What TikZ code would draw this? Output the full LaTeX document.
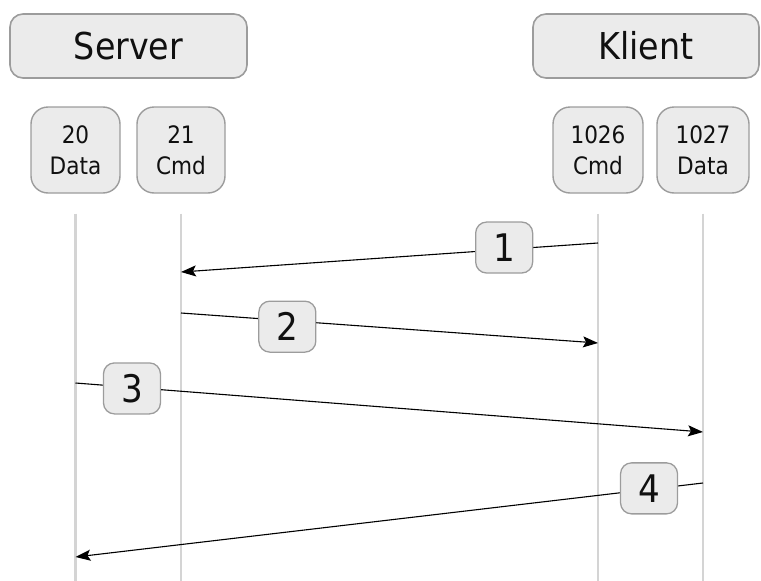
\documentclass[tikz,border=0pt]{standalone}
\usepackage{fontspec}
\setmainfont{DejaVu Sans Condensed}
\usetikzlibrary{arrows.meta}
\definecolor{boxfill}{HTML}{EBEBEB}
\definecolor{boxline}{HTML}{9C9C9C}
\definecolor{lifecol}{HTML}{D4D4D4}
\definecolor{txt}{HTML}{101010}
\tikzset{
  actor/.style={draw=boxline, fill=boxfill, line width=1.6pt, rounded corners=13pt,
    text=txt, font=\fontsize{37}{44}\selectfont, inner sep=0pt, anchor=center},
  port/.style={draw=boxline, fill=boxfill, line width=1.4pt, rounded corners=17pt,
    text=txt, font=\fontsize{24}{31}\selectfont, align=center, inner sep=0pt,
    minimum height=86pt},
  lifeline/.style={draw=lifecol, line width=2.4pt},
  msg/.style={draw=black, line width=1.1pt, -{Stealth[length=15pt,width=11pt,inset=3pt]}},
  lbl/.style={draw=boxline, fill=boxfill, line width=1.3pt, rounded corners=11pt,
    text=txt, font=\fontsize{38}{44}\selectfont, inner sep=0pt,
    minimum width=57pt, minimum height=51pt}
}
\begin{document}
\begin{tikzpicture}[x=1pt,y=-1pt]
\useasboundingbox (0,0) rectangle (761,581);
% actors
\node[actor, minimum width=237pt, minimum height=64pt] (server) at (128.5,46) {Server};
\node[actor, minimum width=226pt, minimum height=64pt] (klient) at (646,46) {Klient};
% ports
\node[port, minimum width=89pt] (p20) at (75.5,150) {20\\Data};
\node[port, minimum width=88pt] (p21) at (181,150) {21\\Cmd};
\node[port, minimum width=90pt] (p1026) at (598,150) {1026\\Cmd};
\node[port, minimum width=92pt] (p1027) at (703,150) {1027\\Data};
\coordinate (bot) at (0,581);
% lifelines
\foreach \p in {p20,p21,p1026,p1027}{
  \draw[lifeline] ([yshift=-20pt]\p.south) -- (\p.south |- bot);
}
% message end points
\coordinate (a1) at (p1026.south |- 0,243);
\coordinate (b1) at (p21.south |- 0,272);
\coordinate (a2) at (p21.south |- 0,313);
\coordinate (b2) at (p1026.south |- 0,343);
\coordinate (a3) at (p20.south |- 0,383);
\coordinate (b3) at (p1027.south |- 0,432);
\coordinate (a4) at (p1027.south |- 0,483);
\coordinate (b4) at (p20.south |- 0,557);
% messages
\draw[msg] (a1) -- node[lbl, pos=0.225, yshift=2pt] (l1) {1} (b1);
\draw[msg] (a2) -- node[lbl, pos=0.255, yshift=-6pt] (l2) {2} (b2);
\draw[msg] (a3) -- node[lbl, pos=0.09, yshift=-1pt] (l3) {3} (b3);
\draw[msg] (a4) -- node[lbl, pos=0.086, yshift=1pt] (l4) {4} (b4);
\end{tikzpicture}
\end{document}
